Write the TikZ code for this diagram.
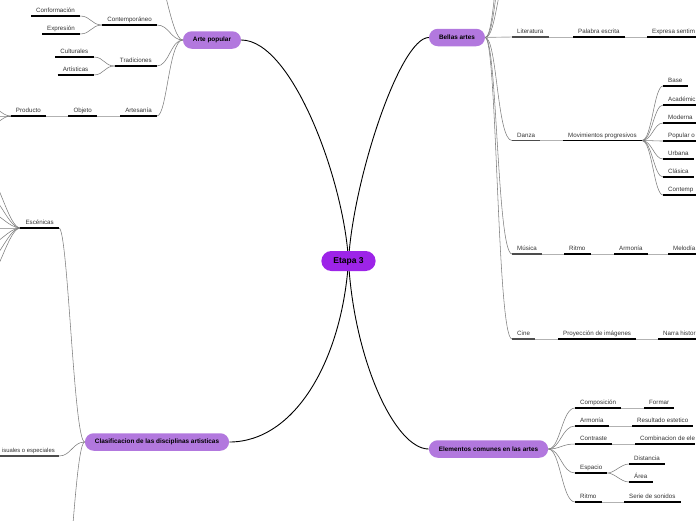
\documentclass[tikz,border=0pt]{standalone}
\usepackage{fontspec}
\setmainfont{Liberation Sans}
\usetikzlibrary{positioning}
\pgfdeclarelayer{background}
\pgfsetlayers{background,main}

\definecolor{hubviolet}{RGB}{178,120,222}
\definecolor{coreviolet}{RGB}{157,36,232}
\definecolor{linkgray}{RGB}{125,125,125}

\tikzset{
  core/.style={fill=coreviolet, rounded corners=10pt, minimum height=20pt,
    inner xsep=12pt, font=\fontsize{8.5}{10}\selectfont\bfseries},
  hub/.style={fill=hubviolet, rounded corners=8.75pt, minimum height=17.5pt,
    inner xsep=10pt, font=\fontsize{6.4}{8}\selectfont\bfseries},
  topic/.style={inner xsep=5pt, inner ysep=2pt, text height=4.6pt, text depth=1.3pt,
    font=\fontsize{6.2}{7}\selectfont, text=black!80},
  ltopic/.style={topic, anchor=south east},
  rtopic/.style={topic, anchor=south west},
  mainlink/.style={line width=0.9pt},
  sublink/.style={linkgray, line width=0.55pt},
  chainlink/.style={black!30, line width=0.9pt},
  uline/.style={line width=1.2pt},
}

\begin{document}
\begin{tikzpicture}[x=1pt, y=-1pt]
  \useasboundingbox (0,0) rectangle (696,520);
  \clip (0,0) rectangle (696,520);

  % main topics
  \node[core] (etapa) at (348.5,261) { Etapa 3 };
  \node[hub] (arte) at (212,40) { Arte popular };
  \node[hub] (bellas) at (457,37.5) { Bellas artes };
  \node[hub] (elem) at (488.5,449) { Elementos comunes en las artes };
  \node[hub] (clasif) at (157,442) { Clasificacion de las disciplinas artisticas };

  % arte popular
  \node[ltopic] (contemp) at (157,25) { Contempor\'aneo };
  \node[ltopic] (trad) at (157,66) { Tradiciones };
  \node[ltopic] (artesan) at (157,116) { Artesan\'ia };
  \node[ltopic] (conform) at (80,16) { Conformaci\'on };
  \node[ltopic] (expres) at (80,34) { Expresi\'on };
  \node[ltopic] (cultur) at (93.5,57) { Culturales };
  \node[ltopic] (artist) at (93.5,75) { Art\'isticas };
  \node[ltopic] (objeto) at (97,116) { Objeto };
  \node[ltopic] (producto) at (46,116) { Producto };
  \coordinate (arteup) at (152,-40);
  \coordinate (prod1) at (-14,104);
  \coordinate (prod2) at (-14,116);
  \coordinate (prod3) at (-14,128);

  % bellas artes
  \node[rtopic] (lit) at (512,37) { Literatura };
  \node[rtopic] (palabra) at (573,37) { Palabra escrita };
  \node[rtopic] (expresa) at (647,37) { Expresa sentim };
  \node[rtopic] (danza) at (512,140.5) { Danza };
  \node[rtopic] (movim) at (563,140.5) { Movimientos progresivos };
  \node[rtopic] (base) at (663,86) { Base };
  \node[rtopic] (acad) at (663,105) { Acad\'emic };
  \node[rtopic] (moderna) at (663,123) { Moderna };
  \node[rtopic] (popular) at (663,141) { Popular o };
  \node[rtopic] (urbana) at (663,159) { Urbana };
  \node[rtopic] (clasica) at (663,177) { Cl\'asica };
  \node[rtopic] (contempo) at (663,195) { Contemp };
  \node[rtopic] (musica) at (512,254) { M\'usica };
  \node[rtopic] (ritmo) at (564,254) { Ritmo };
  \node[rtopic] (armonia) at (614,254) { Armon\'ia };
  \node[rtopic] (melodia) at (668,254) { Melod\'ia };
  \node[rtopic] (cine) at (512,339) { Cine };
  \node[rtopic] (proyec) at (558,339) { Proyecci\'on de im\'agenes };
  \node[rtopic] (narra) at (658,339) { Narra histor };
  \coordinate (bup1) at (512,-30);
  \coordinate (bup2) at (512,-70);
  \coordinate (bup3) at (512,-110);

  % elementos comunes
  \node[rtopic] (compos) at (575,408) { Composici\'on };
  \node[rtopic] (formar) at (644,408) { Formar };
  \node[rtopic] (armon) at (575,426) { Armon\'ia };
  \node[rtopic] (result) at (632,426) { Resultado estetico };
  \node[rtopic] (contra) at (575,444) { Contraste };
  \node[rtopic] (combin) at (635,444) { Combinacion de ele };
  \node[rtopic] (espacio) at (575,473) { Espacio };
  \node[rtopic] (dist) at (629,464) { Distancia };
  \node[rtopic] (area) at (629,482) { \'Area };
  \node[rtopic] (ritmob) at (575,502) { Ritmo };
  \node[rtopic] (serie) at (624,502) { Serie de sonidos };

  % clasificacion
  \node[ltopic] (escen) at (59,228) { Esc\'enicas };
  \node[ltopic, inner xsep=4pt, font=\fontsize{5.9}{7}\selectfont] (visual) at (59,456) { isuales o especiales };
  \coordinate (cdown) at (60,620);

  % underlines
  \foreach \n in {contemp,trad,artesan,conform,expres,cultur,artist,objeto,producto,
      palabra,movim,base,acad,moderna,popular,urbana,clasica,
      ritmo,armonia,proyec,compos,formar,armon,result,contra,
      espacio,dist,area,ritmob,serie,escen}
    \draw[uline] (\n.south west) -- (\n.south east);
  \foreach \n in {expresa,contempo,melodia,narra,combin}
    \draw[uline] (\n.south west) -- ++(60,0);
  \foreach \n in {lit,danza,musica,cine}
    \draw[uline, black!70] (\n.south west) -- (\n.south east);
  \draw[uline, black!70] (visual.south east) -- ++(-70,0);

  \begin{pgfonlayer}{background}
    % from the centre
    \draw[mainlink] (etapa.center) .. controls (344,180) and (292,40) .. (arte.east);
    \draw[mainlink] (etapa.center) .. controls (353,180) and (400,37.5) .. (bellas.west);
    \draw[mainlink] (etapa.center) .. controls (354,360) and (395,449) .. (elem.west);
    \draw[mainlink] (etapa.center) .. controls (342,360) and (295,442) .. (clasif.east);

    % arte popular
    \draw[sublink] (arte.west) .. controls +(-12,0) and +(10,0) .. (arteup);
    \draw[sublink] (arte.west) .. controls +(-12,0) and +(12,0) .. (contemp.south east);
    \draw[sublink] (arte.west) .. controls +(-12,0) and +(12,0) .. (trad.south east);
    \draw[sublink] (arte.west) .. controls +(-14,0) and +(10,0) .. (artesan.south east);
    \draw[sublink] (contemp.south west) .. controls +(-11,0) and +(11,0) .. (conform.south east);
    \draw[sublink] (contemp.south west) .. controls +(-11,0) and +(11,0) .. (expres.south east);
    \draw[sublink] (trad.south west) .. controls +(-11,0) and +(11,0) .. (cultur.south east);
    \draw[sublink] (trad.south west) .. controls +(-11,0) and +(11,0) .. (artist.south east);
    \draw[chainlink] (artesan.south west) -- (objeto.south east);
    \draw[chainlink] (objeto.south west) -- (producto.south east);
    \foreach \p in {prod1,prod2,prod3}
      \draw[sublink] (producto.south west) .. controls +(-10,0) and +(10,0) .. (\p);

    % bellas artes
    \foreach \p in {bup1,bup2,bup3}
      \draw[sublink] (bellas.east) .. controls +(12,0) and +(-15,0) .. (\p);
    \draw[chainlink] (bellas.east) -- (lit.south west);
    \draw[sublink] (bellas.east) .. controls +(12,0) and +(-15,0) .. (danza.south west);
    \draw[sublink] (bellas.east) .. controls +(12,0) and +(-15,0) .. (musica.south west);
    \draw[sublink] (bellas.east) .. controls +(12,0) and +(-15,0) .. (cine.south west);
    \draw[chainlink] (lit.south east) -- (palabra.south west);
    \draw[chainlink] (palabra.south east) -- (expresa.south west);
    \draw[chainlink] (danza.south east) -- (movim.south west);
    \foreach \n in {base,acad,moderna,popular,urbana,clasica,contempo}
      \draw[sublink] (movim.south east) .. controls +(10,0) and +(-9,0) .. (\n.south west);
    \draw[chainlink] (musica.south east) -- (ritmo.south west);
    \draw[chainlink] (ritmo.south east) -- (armonia.south west);
    \draw[chainlink] (armonia.south east) -- (melodia.south west);
    \draw[chainlink] (cine.south east) -- (proyec.south west);
    \draw[chainlink] (proyec.south east) -- (narra.south west);

    % elementos comunes
    \foreach \n in {compos,armon,contra,espacio,ritmob}
      \draw[sublink] (elem.east) .. controls +(12,0) and +(-13,0) .. (\n.south west);
    \draw[chainlink] (compos.south east) -- (formar.south west);
    \draw[chainlink] (armon.south east) -- (result.south west);
    \draw[chainlink] (contra.south east) -- (combin.south west);
    \draw[sublink] (espacio.south east) .. controls +(7,0) and +(-8,0) .. (dist.south west);
    \draw[sublink] (espacio.south east) .. controls +(7,0) and +(-8,0) .. (area.south west);
    \draw[chainlink] (ritmob.south east) -- (serie.south west);

    % clasificacion
    \draw[sublink] (clasif.west) .. controls +(-11,0) and +(9,0) .. (escen.south east);
    \draw[sublink] (clasif.west) .. controls +(-12,0) and +(12,0) .. (visual.south east);
    \draw[sublink] (clasif.west) .. controls +(-10,0) and +(10,0) .. (cdown);
    \foreach \y in {173,193,211,228,246,263,280}
      \draw[sublink] (escen.south west) .. controls +(-12,0) and +(12,0) .. (-14,\y);
  \end{pgfonlayer}
\end{tikzpicture}
\end{document}
